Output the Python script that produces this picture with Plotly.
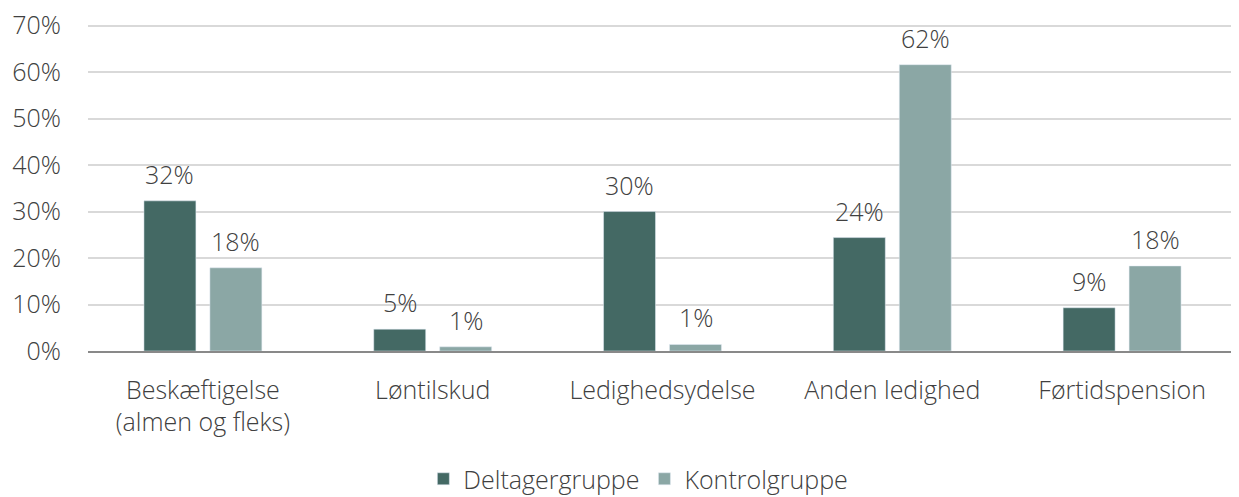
import plotly.graph_objects as go

categories = ["Beskæftigelse<br>(almen og fleks)", "Løntilskud", "Ledighedsydelse", "Anden ledighed", "Førtidspension"]
deltager = [0.323, 0.047, 0.30, 0.244, 0.093]
kontrol = [0.179, 0.009, 0.014, 0.616, 0.183]
tick_vals = [0, 0.1, 0.2, 0.3, 0.4, 0.5, 0.6, 0.7]

font_family = "Open Sans, Noto Sans, sans-serif"
text_color = "#404040"
FS = 25

fig = go.Figure()
fig.add_trace(go.Bar(
    x=categories, y=deltager, name="Deltagergruppe",
    marker=dict(color="#446964"),
))
fig.add_trace(go.Bar(
    x=categories, y=kontrol, name="Kontrolgruppe",
    marker=dict(color="#8BA7A5"),
))

# value labels above each bar
for series, shift in ((deltager, -33), (kontrol, 33)):
    for cat, v in zip(categories, series):
        fig.add_annotation(
            x=cat, y=v, xshift=shift, yshift=8, yanchor="bottom",
            text=f"{v:.0%}", showarrow=False,
            font=dict(size=FS, color=text_color, family=font_family, weight=300),
        )

# page body has an 8px margin, so the figure is shrunk/shifted accordingly
fig.update_layout(
    width=1231, height=489,
    margin=dict(l=80, r=2, t=13, b=146, autoexpand=False),
    paper_bgcolor="white", plot_bgcolor="white",
    barmode="group", bargap=0.426, bargroupgap=0.212,
    font=dict(family=font_family, size=FS, color=text_color, weight=300),
    showlegend=True,
    legend=dict(orientation="h", x=0.479, xanchor="center", y=-0.388, yanchor="middle",
                font=dict(size=FS, color=text_color, weight=300)),
)
fig.update_yaxes(
    range=[0, 0.71], tickvals=tick_vals, tickformat=".0%",
    showgrid=True, gridcolor="#D9D9D9", gridwidth=1.5,
    zeroline=False, showline=False, ticks="", ticklabelstandoff=26,
    automargin=False, ticklabeloverflow="allow",
    tickfont=dict(size=FS, color=text_color, weight=300),
)
fig.update_xaxes(
    showline=True, linecolor="#898989", linewidth=1.5,
    ticks="", ticklabelstandoff=16, automargin=False,
    tickfont=dict(size=FS, color=text_color, weight=300),
)
fig.write_html("out.html")
